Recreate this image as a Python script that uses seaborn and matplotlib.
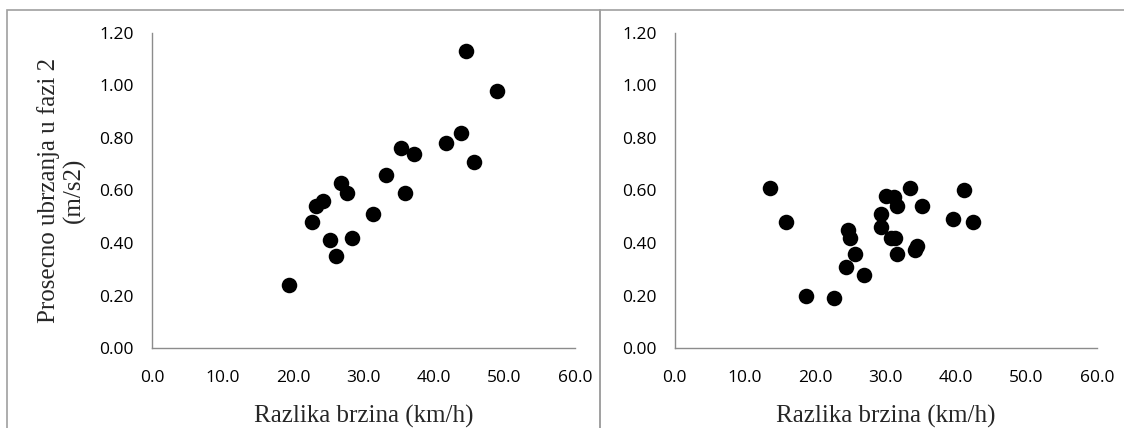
import matplotlib
matplotlib.use("Agg")
import matplotlib.pyplot as plt
import seaborn as sns
import pandas as pd
from matplotlib.patches import Rectangle

# left panel
left_x = [19.5, 22.7, 23.3, 24.2, 25.2, 26.1, 26.8, 27.6, 28.4, 31.3, 33.2, 35.3,
          35.9, 37.1, 41.7, 43.9, 44.5, 45.7, 49.0]
left_y = [0.24, 0.48, 0.54, 0.56, 0.41, 0.35, 0.63, 0.59, 0.42, 0.51, 0.66, 0.76,
          0.59, 0.74, 0.78, 0.82, 1.13, 0.71, 0.98]

# right panel
right_x = [13.6, 15.8, 18.7, 22.6, 24.3, 24.7, 24.9, 25.6, 26.9, 29.3, 29.3, 30.0,
           30.7, 31.3, 31.2, 31.65, 31.65, 33.4, 34.2, 34.4, 35.1, 39.5, 41.1, 42.4]
right_y = [0.61, 0.48, 0.20, 0.19, 0.31, 0.45, 0.42, 0.36, 0.28, 0.51, 0.46, 0.58,
           0.42, 0.42, 0.575, 0.54, 0.36, 0.61, 0.375, 0.39, 0.54, 0.49, 0.60, 0.48]

x_ticks = [0, 10, 20, 30, 40, 50, 60]
y_ticks = [0.0, 0.2, 0.4, 0.6, 0.8, 1.0, 1.2]
x_label = "Razlika brzina (km/h)"
y_label = "Prosecno ubrzanja u fazi 2\n(m/s2)"

sns.set_style("white")
plt.rcParams["font.family"] = ["Open Sans", "DejaVu Sans"]
serif = ["Liberation Serif", "DejaVu Serif"]

W, H = 1124, 428
fig = plt.figure(figsize=(W / 100, H / 100), dpi=100)

# chart borders (two Excel chart boxes)
fig.patches.append(Rectangle((7 / W, -0.1), (600 - 7) / W, 1.1 - 10 / H,
                             transform=fig.transFigure, fill=False,
                             edgecolor="#a0a0a0", linewidth=1.2))
fig.patches.append(Rectangle((600 / W, -0.1), (W + 5 - 600) / W, 1.1 - 10 / H,
                             transform=fig.transFigure, fill=False,
                             edgecolor="#a0a0a0", linewidth=1.2))

panels = [
    (152, 575, left_x, left_y, True),
    (674.5, 1097, right_x, right_y, False),
]
bottom_px, top_px = 348, 33
for x0, x1, xs, ys, show_ylabel in panels:
    ax = fig.add_axes([x0 / W, (H - bottom_px) / H, (x1 - x0) / W, (bottom_px - top_px) / H])
    df = pd.DataFrame({"x": xs, "y": ys})
    sns.scatterplot(data=df, x="x", y="y", ax=ax, color="black", s=125,
                    edgecolor="black", linewidth=0, clip_on=False)
    ax.set_xlim(0, 60)
    ax.set_ylim(0, 1.2)
    ax.set_xticks(x_ticks)
    ax.set_xticklabels([f"{v:.1f}" for v in x_ticks])
    ax.set_yticks(y_ticks)
    ax.set_yticklabels([f"{v:.2f}" for v in y_ticks])
    for side in ["top", "right"]:
        ax.spines[side].set_visible(False)
    for side in ["left", "bottom"]:
        ax.spines[side].set_color("#8c8c8c")
        ax.spines[side].set_linewidth(1)
    ax.tick_params(axis="both", direction="out", length=5, width=1, color="#8c8c8c",
                   labelsize=12.5, labelcolor="black", pad=8)
    ax.tick_params(axis="x", pad=11)
    ax.set_xlabel(x_label, family=serif, fontsize=18)
    ax.xaxis.label.set_va("center")
    ax.xaxis.set_label_coords(0.5, -0.216)
    if show_ylabel:
        ax.set_ylabel(y_label, family=serif, fontsize=18, linespacing=1.2)
        ax.yaxis.label.set_va("center")
        ax.yaxis.set_label_coords(-0.214, 0.5)
    else:
        ax.set_ylabel("")

fig.savefig("out.png", dpi=100, facecolor="white")
